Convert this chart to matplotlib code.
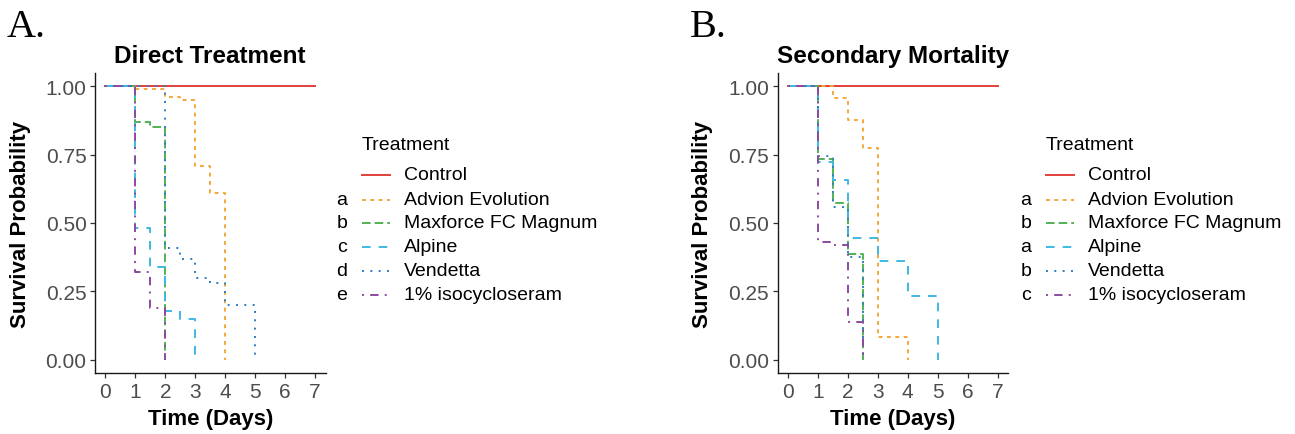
"""Kaplan-Meier style survival curves for direct treatment and secondary mortality."""
import matplotlib.pyplot as plt
from matplotlib.lines import Line2D

plt.rcParams['font.family'] = ['Liberation Sans', 'DejaVu Sans']
plt.rcParams['lines.scale_dashes'] = False

treatments = ['Control', 'Advion Evolution', 'Maxforce FC Magnum', 'Alpine',
              'Vendetta', '1% isocycloseram']
colors = ['#E0413A', '#F5A83A', '#52B153', '#3DB9E3', '#2D7DC4', '#8B4B9E']
dashes = [None, (2.8, 3.2), (6.2, 2.9), (6.2, 5.8), (1.4, 4.6), (1.4, 4.5, 6.0, 4.5)]

# panel A: direct treatment (time in days, survival probability)
direct_times = [
    [0, 7],
    [0, 1, 2, 2.5, 3, 3.5, 4],
    [0, 1, 1.5, 2],
    [0, 1, 1.5, 2, 2.5, 3],
    [0, 2, 2.5, 3, 3.5, 4, 5],
    [0, 1, 1.5, 2],
]
direct_surv = [
    [1, 1],
    [1, 0.99, 0.96, 0.95, 0.71, 0.61, 0],
    [1, 0.87, 0.85, 0],
    [1, 0.48, 0.34, 0.18, 0.15, 0],
    [1, 0.41, 0.37, 0.30, 0.28, 0.20, 0],
    [1, 0.32, 0.19, 0],
]
direct_letters = ['', 'a', 'b', 'c', 'd', 'e']

# panel B: secondary mortality
secondary_times = [
    [0, 7],
    [0, 1.5, 2, 2.5, 3, 4],
    [0, 1, 1.5, 2, 2.5],
    [0, 1, 1.5, 2, 3, 4, 5],
    [0, 1, 1.5, 2, 2.5],
    [0, 1, 1.5, 2, 2.5],
]
secondary_surv = [
    [1, 1],
    [1, 0.957, 0.877, 0.774, 0.082, 0],
    [1, 0.734, 0.572, 0.387, 0],
    [1, 0.722, 0.658, 0.445, 0.36, 0.232, 0],
    [1, 0.745, 0.56, 0.375, 0],
    [1, 0.432, 0.42, 0.137, 0],
]
secondary_letters = ['', 'a', 'b', 'a', 'b', 'c']

W, H = 1295, 435
LW = 1.4


def style_line(line, i):
    if dashes[i] is not None:
        line.set_dashes(dashes[i])


def survival_panel(fig, left_px, times, surv, title):
    ax = fig.add_axes([left_px / W, (H - 374.4) / H, 230.5 / W, 300.8 / H])
    for i in range(len(treatments)):
        (line,) = ax.step(times[i], surv[i], where='post', color=colors[i], lw=LW)
        style_line(line, i)
    ax.set_xlim(-0.35, 7.35)
    ax.set_ylim(-0.05, 1.05)
    ax.set_xticks(range(8))
    ax.set_yticks([0, 0.25, 0.5, 0.75, 1.0])
    ax.set_yticklabels(['0.00', '0.25', '0.50', '0.75', '1.00'])
    for side in ['top', 'right']:
        ax.spines[side].set_visible(False)
    for side in ['left', 'bottom']:
        ax.spines[side].set_linewidth(1.0)
        ax.spines[side].set_color('#1a1a1a')
    ax.tick_params(length=3.6, width=0.9, color='#333333', labelcolor='#4D4D4D',
                   labelsize=15, pad=2.5)
    ax.set_title(title, fontsize=17.5, fontweight='bold', pad=7.5)
    ax.set_xlabel('Time (Days)', fontsize=16, fontweight='bold', labelpad=5)
    ax.text(-75 / 230.5, 0.5, 'Survival Probability', transform=ax.transAxes,
            rotation=90, ha='center', va='center', fontsize=16, fontweight='bold')
    return ax


def draw_legend(fig, handle_x, letters):
    def fx(px):
        return px / W

    def fy(py):
        return (H - py) / H

    fig.text(fx(handle_x), fy(145), 'Treatment', fontsize=14, ha='left', va='center')
    row_y = [176, 200.5, 224, 248, 272, 296]
    for i, name in enumerate(treatments):
        y = row_y[i]
        line = Line2D([fx(handle_x), fx(handle_x + 28)], [fy(y), fy(y)],
                      transform=fig.transFigure, color=colors[i], lw=LW)
        style_line(line, i)
        fig.add_artist(line)
        fig.text(fx(handle_x + 42), fy(y), name, fontsize=14, ha='left', va='center')
        if letters[i]:
            fig.text(fx(handle_x - 20), fy(y), letters[i], fontsize=14,
                     ha='center', va='center')


fig = plt.figure(figsize=(W / 100, H / 100), dpi=100)

survival_panel(fig, 95, direct_times, direct_surv, 'Direct Treatment')
survival_panel(fig, 777.5, secondary_times, secondary_surv, 'Secondary Mortality')

draw_legend(fig, 362, direct_letters)
draw_legend(fig, 1046, secondary_letters)

fig.text(7 / W, (H - 37) / H, 'A.', family=['Liberation Serif', 'DejaVu Serif'],
         fontsize=29, ha='left', va='baseline')
fig.text(690 / W, (H - 37) / H, 'B.', family=['Liberation Serif', 'DejaVu Serif'],
         fontsize=29, ha='left', va='baseline')

plt.savefig('out.png', dpi=100)
plt.close()
